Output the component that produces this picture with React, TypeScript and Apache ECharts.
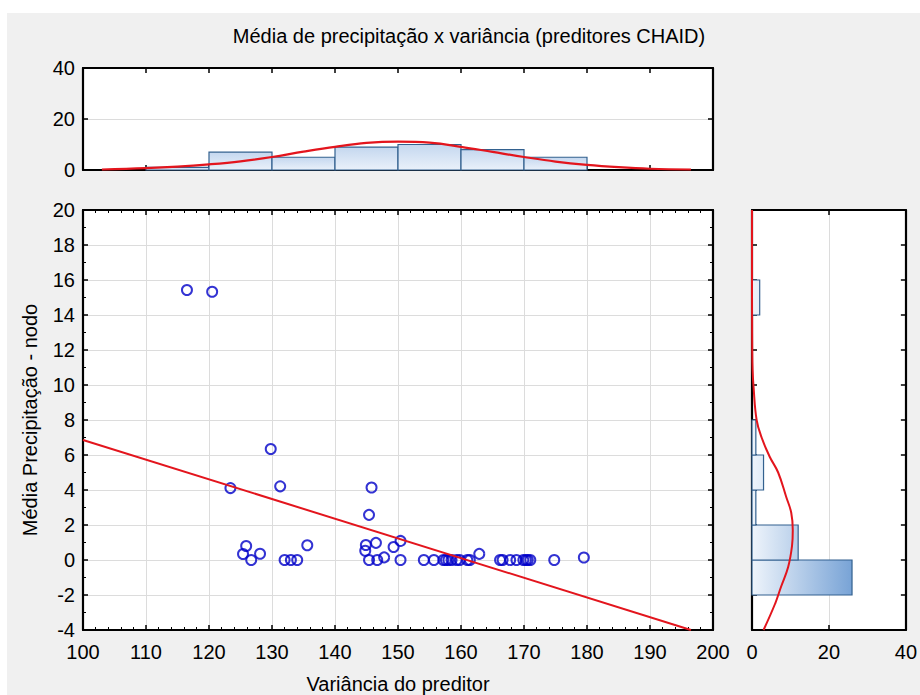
import React, { useEffect, useRef } from "react";
import * as echarts from "echarts";

// ---- data ----
const scatterX = [
  116.5, 120.5, 129.8, 123.4, 131.3, 145.8, 145.4,
  125.9, 125.4, 128.1, 135.6, 144.9, 144.8, 146.5, 147.8, 149.3, 150.4, 162.9, 179.5,
  126.7, 132.0, 133.0, 134.0, 145.4, 146.7, 150.4, 154.1, 155.7, 157.2, 157.6, 158.0,
  158.5, 159.3, 159.8, 161.0, 161.4, 166.2, 166.6, 167.8, 168.8, 169.9, 170.3, 170.6,
  171.0, 174.8,
];
const scatterY = [
  15.43, 15.33, 6.34, 4.11, 4.21, 4.14, 2.58,
  0.8, 0.34, 0.36, 0.84, 0.86, 0.53, 0.98, 0.15, 0.74, 1.09, 0.35, 0.14,
  0, 0, 0, 0, 0, 0, 0, 0, 0, 0, 0, 0,
  0, 0, 0, 0, 0, 0, 0, 0, 0, 0, 0, 0,
  0, 0,
];

const topBinStart = [110, 120, 130, 140, 150, 160, 170];
const topBinCount = [1, 7, 5, 9, 10, 8, 5];
const topBinWidth = 10;

const rightBinStart = [-2, 0, 2, 4, 6, 14];
const rightBinCount = [26, 12, 1, 3, 1, 2];
const rightBinWidth = 2;

const topCurveX = [103, 110, 115, 120, 125, 130, 135, 140, 145, 150, 155, 160, 165, 170, 175, 180, 185, 190, 196.5];
const topCurveY = [0.2, 0.7, 1.3, 2.2, 3.4, 5.1, 7.2, 9.1, 10.6, 11.1, 10.7, 9.1, 7.1, 5.1, 3.3, 2.0, 1.1, 0.5, 0.2];

const rightCurveY = [20, 16, 14, 12, 10.9, 9.9, 8, 7, 5.9, 5, 3.6, 2.7, 1.7, 0.8, -0.4, -1.5, -2.5, -4];
const rightCurveX = [0, 0, 0.02, 0.06, 0.15, 0.4, 1.2, 2.5, 4.6, 6.8, 8.9, 10.2, 10.6, 10.4, 9.4, 7.6, 6.0, 3.0];

const fitLineX = [100, 196.5];
const fitLineY = [6.86, -4];

const TITLE = "Média de precipitação x variância (preditores CHAID)";
const X_NAME = "Variância do preditor";
const Y_NAME = "Média Precipitação - nodo";

const FONT = "'Liberation Sans', Arial, sans-serif";
const FS = 20;

function mix(a: string, b: string, t: number) {
  const pa = [1, 3, 5].map((i) => parseInt(a.slice(i, i + 2), 16));
  const pb = [1, 3, 5].map((i) => parseInt(b.slice(i, i + 2), 16));
  const c = pa.map((v, i) => Math.round(v + (pb[i] - v) * t));
  return `rgb(${c[0]},${c[1]},${c[2]})`;
}

const axisLine = { show: true, onZero: false, lineStyle: { color: "#000", width: 2.2 } };
const tick = { show: true, inside: true, length: 5, lineStyle: { color: "#000", width: 1.5 } };
const minor = (n: number) => ({ show: true, splitNumber: n, length: 3, lineStyle: { color: "#000", width: 1 } });
const label = { show: true, fontSize: FS, fontFamily: FONT, color: "#000" };
const noLabel = { show: false };
const grid = { color: "#dcdcdc", width: 1 };

export default function App() {
  const ref = useRef<HTMLDivElement>(null);
  useEffect(() => {
    if (!ref.current) return;
    const chart = echarts.init(ref.current, undefined, { renderer: "svg" });
    const xBase = { type: "value", min: 100, max: 200, interval: 10 };
    const yMain = { type: "value", min: -4, max: 20, interval: 2 };
    const option: any = {
      animation: false,
      backgroundColor: "#f0f0f0",
      grid: [
        { left: 83, top: 68, width: 630, height: 102, show: true, backgroundColor: "#fff", borderWidth: 0 },
        { left: 83, top: 210, width: 630, height: 420, show: true, backgroundColor: "#fff", borderWidth: 0 },
        { left: 752, top: 210, width: 156, height: 420, show: true, backgroundColor: "#fff", borderWidth: 0 },
      ],
      xAxis: [
        { ...xBase, gridIndex: 0, position: "bottom", axisLine, axisTick: tick, axisLabel: noLabel, splitLine: { show: false } },
        { ...xBase, gridIndex: 0, position: "top", axisLine, axisTick: tick, axisLabel: noLabel, splitLine: { show: false } },
        { ...xBase, gridIndex: 1, position: "bottom", axisLine, axisTick: tick, minorTick: minor(5), axisLabel: { ...label, margin: 12 }, splitLine: { show: true, lineStyle: grid } },
        { ...xBase, gridIndex: 1, position: "top", axisLine, axisTick: tick, minorTick: minor(5), axisLabel: noLabel, splitLine: { show: false } },
        { type: "value", min: 0, max: 40, interval: 20, gridIndex: 2, position: "bottom", axisLine, axisTick: tick, axisLabel: { ...label, margin: 12 }, splitLine: { show: true, lineStyle: grid } },
        { type: "value", min: 0, max: 40, interval: 20, gridIndex: 2, position: "top", axisLine, axisTick: tick, axisLabel: noLabel, splitLine: { show: false } },
      ],
      yAxis: [
        { type: "value", min: 0, max: 40, interval: 20, gridIndex: 0, position: "left", axisLine, axisTick: tick, axisLabel: { ...label, margin: 8 }, splitLine: { show: true, lineStyle: grid } },
        { type: "value", min: 0, max: 40, interval: 20, gridIndex: 0, position: "right", axisLine, axisTick: tick, axisLabel: noLabel, splitLine: { show: false } },
        { ...yMain, gridIndex: 1, position: "left", axisLine, axisTick: tick, minorTick: minor(2), axisLabel: { ...label, margin: 8 }, splitLine: { show: true, lineStyle: grid } },
        { ...yMain, gridIndex: 1, position: "right", axisLine, axisTick: tick, minorTick: minor(2), axisLabel: noLabel, splitLine: { show: false } },
        { ...yMain, gridIndex: 2, position: "left", axisLine, axisTick: tick, axisLabel: noLabel, splitLine: { show: false } },
        { ...yMain, gridIndex: 2, position: "right", axisLine, axisTick: tick, axisLabel: noLabel, splitLine: { show: false } },
      ],
      graphic: [
        { type: "rect", shape: { x: 0, y: 0, width: 920, height: 13 }, style: { fill: "#fff" }, silent: true },
        { type: "rect", shape: { x: 0, y: 0, width: 7, height: 695 }, style: { fill: "#fff" }, silent: true },
        { type: "text", x: 469, y: 36, style: { text: TITLE, fontSize: FS, fontFamily: FONT, fill: "#000", align: "center", verticalAlign: "middle" } },
        { type: "text", x: 398, y: 684, style: { text: X_NAME, fontSize: FS, fontFamily: FONT, fill: "#000", align: "center", verticalAlign: "middle" } },
        { type: "text", x: 30, y: 420, rotation: Math.PI / 2, style: { text: Y_NAME, fontSize: FS, fontFamily: FONT, fill: "#000", align: "center", verticalAlign: "middle" } },
      ],
      series: [
        {
          type: "custom",
          xAxisIndex: 0,
          yAxisIndex: 0,
          data: topBinStart.map((s, i) => [s, s + topBinWidth, topBinCount[i]]),
          encode: { x: [0, 1], y: 2 },
          renderItem: (params: any, api: any) => {
            const p0 = api.coord([api.value(0), api.value(2)]);
            const p1 = api.coord([api.value(1), 0]);
            return {
              type: "rect",
              shape: { x: p0[0], y: p0[1], width: p1[0] - p0[0], height: p1[1] - p0[1] },
              style: {
                fill: new echarts.graphic.LinearGradient(0, 0, 0, 1, [
                  { offset: 0, color: "#c4d7ef" },
                  { offset: 1, color: "#eaf1fa" },
                ]),
                stroke: "#33618f",
                lineWidth: 1.2,
              },
            };
          },
        },
        {
          type: "line",
          xAxisIndex: 0,
          yAxisIndex: 0,
          data: topCurveX.map((x, i) => [x, topCurveY[i]]),
          symbol: "none",
          smooth: 0.4,
          lineStyle: { color: "#e3151d", width: 2.2 },
          z: 4,
        },
        {
          type: "scatter",
          xAxisIndex: 2,
          yAxisIndex: 2,
          data: scatterX.map((x, i) => [x, scatterY[i]]),
          symbol: "circle",
          symbolSize: 10,
          itemStyle: { color: "rgba(0,0,0,0)", borderColor: "#0000c8", borderWidth: 2 },
        },
        {
          type: "line",
          xAxisIndex: 2,
          yAxisIndex: 2,
          data: fitLineX.map((x, i) => [x, fitLineY[i]]),
          symbol: "none",
          lineStyle: { color: "#e3151d", width: 2 },
          z: 4,
        },
        {
          type: "custom",
          xAxisIndex: 4,
          yAxisIndex: 4,
          data: rightBinStart.map((s, i) => [rightBinCount[i], s, s + rightBinWidth]),
          encode: { x: 0, y: [1, 2] },
          renderItem: (params: any, api: any) => {
            const c = api.value(0);
            const p0 = api.coord([0, api.value(2)]);
            const p1 = api.coord([c, api.value(1)]);
            return {
              type: "rect",
              shape: { x: p0[0], y: p0[1], width: p1[0] - p0[0], height: p1[1] - p0[1] },
              style: {
                fill: new echarts.graphic.LinearGradient(0, 0, 1, 0, [
                  { offset: 0, color: "#eef4fb" },
                  { offset: 1, color: mix("#eef4fb", "#78a3d6", Math.min(1, c / 26)) },
                ]),
                stroke: "#33618f",
                lineWidth: 1.2,
              },
            };
          },
        },
        {
          type: "line",
          xAxisIndex: 4,
          yAxisIndex: 4,
          data: rightCurveX.map((x, i) => [x, rightCurveY[i]]),
          symbol: "none",
          smooth: 0.4,
          lineStyle: { color: "#e3151d", width: 2 },
          z: 4,
        },
      ],
    };
    chart.setOption(option);
    return () => chart.dispose();
  }, []);
  return (
    <div
      ref={ref}
      style={{ position: "absolute", left: 0, top: 0, width: 920, height: 695 }}
    />
  );
}
